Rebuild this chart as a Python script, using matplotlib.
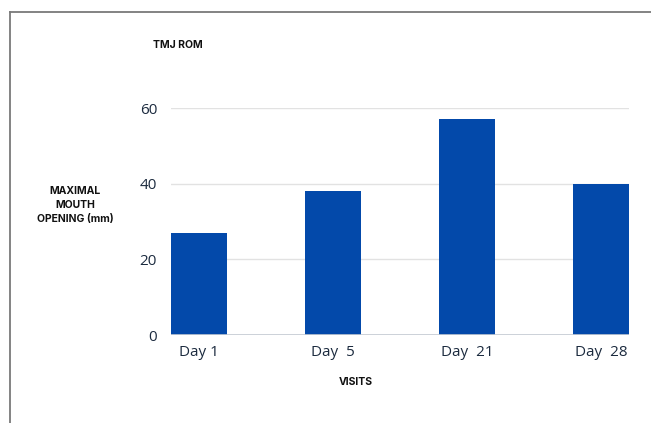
import matplotlib.pyplot as plt
from matplotlib.lines import Line2D

visits = ['Day 1', 'Day  5', 'Day  21', 'Day  28']
mouth_opening = [27, 38, 57, 40]
y_ticks = [0, 20, 40, 60]

plt.rcParams['font.family'] = ['Open Sans', 'DejaVu Sans']

fig = plt.figure(figsize=(6.51, 4.23), dpi=100)
ax = fig.add_axes([171 / 651, 88 / 423, 458 / 651, 227 / 423])

x = list(range(len(visits)))
ax.bar(x, mouth_opening, width=0.418, color='#0349aa', zorder=3)

ax.set_xlim(-0.209, len(visits) - 1 + 0.209)
ax.set_ylim(0, 60)
ax.set_yticks(y_ticks)
ax.set_xticks(x)
ax.set_xticklabels(visits)
ax.grid(axis='y', color='#e2e2e2', linewidth=1, zorder=0)
ax.axhline(0, color='#c5cbd3', linewidth=1.2, zorder=4)

for side in ['top', 'right', 'left', 'bottom']:
    ax.spines[side].set_visible(False)
ax.tick_params(axis='both', length=0, labelsize=11, colors='#1c2b3f')
ax.tick_params(axis='y', pad=10)
ax.tick_params(axis='x', pad=7)

# labels placed in figure pixels
label_font = dict(fontsize=7.5, fontweight='bold', color='#111111',
                  family=['Inter', 'DejaVu Sans'])
fig.text(178 / 651, 1 - 45 / 423, 'TMJ ROM', ha='center', va='center',
         **label_font)
fig.text(75 / 651, 1 - 205 / 423, 'MAXIMAL\nMOUTH\nOPENING (mm)', ha='center',
         va='center', linespacing=1.45, **label_font)
fig.text(356 / 651, 1 - 382 / 423, 'VISITS', ha='center', va='center',
         **label_font)

# frame lines along the top and left edge
fig.add_artist(Line2D([10 / 651, 1], [1 - 12 / 423, 1 - 12 / 423],
                      color='#7a7a7a', linewidth=1.3))
fig.add_artist(Line2D([10 / 651, 10 / 651], [0, 1 - 12 / 423],
                      color='#7a7a7a', linewidth=1.3))

fig.savefig('out.png', dpi=100)
